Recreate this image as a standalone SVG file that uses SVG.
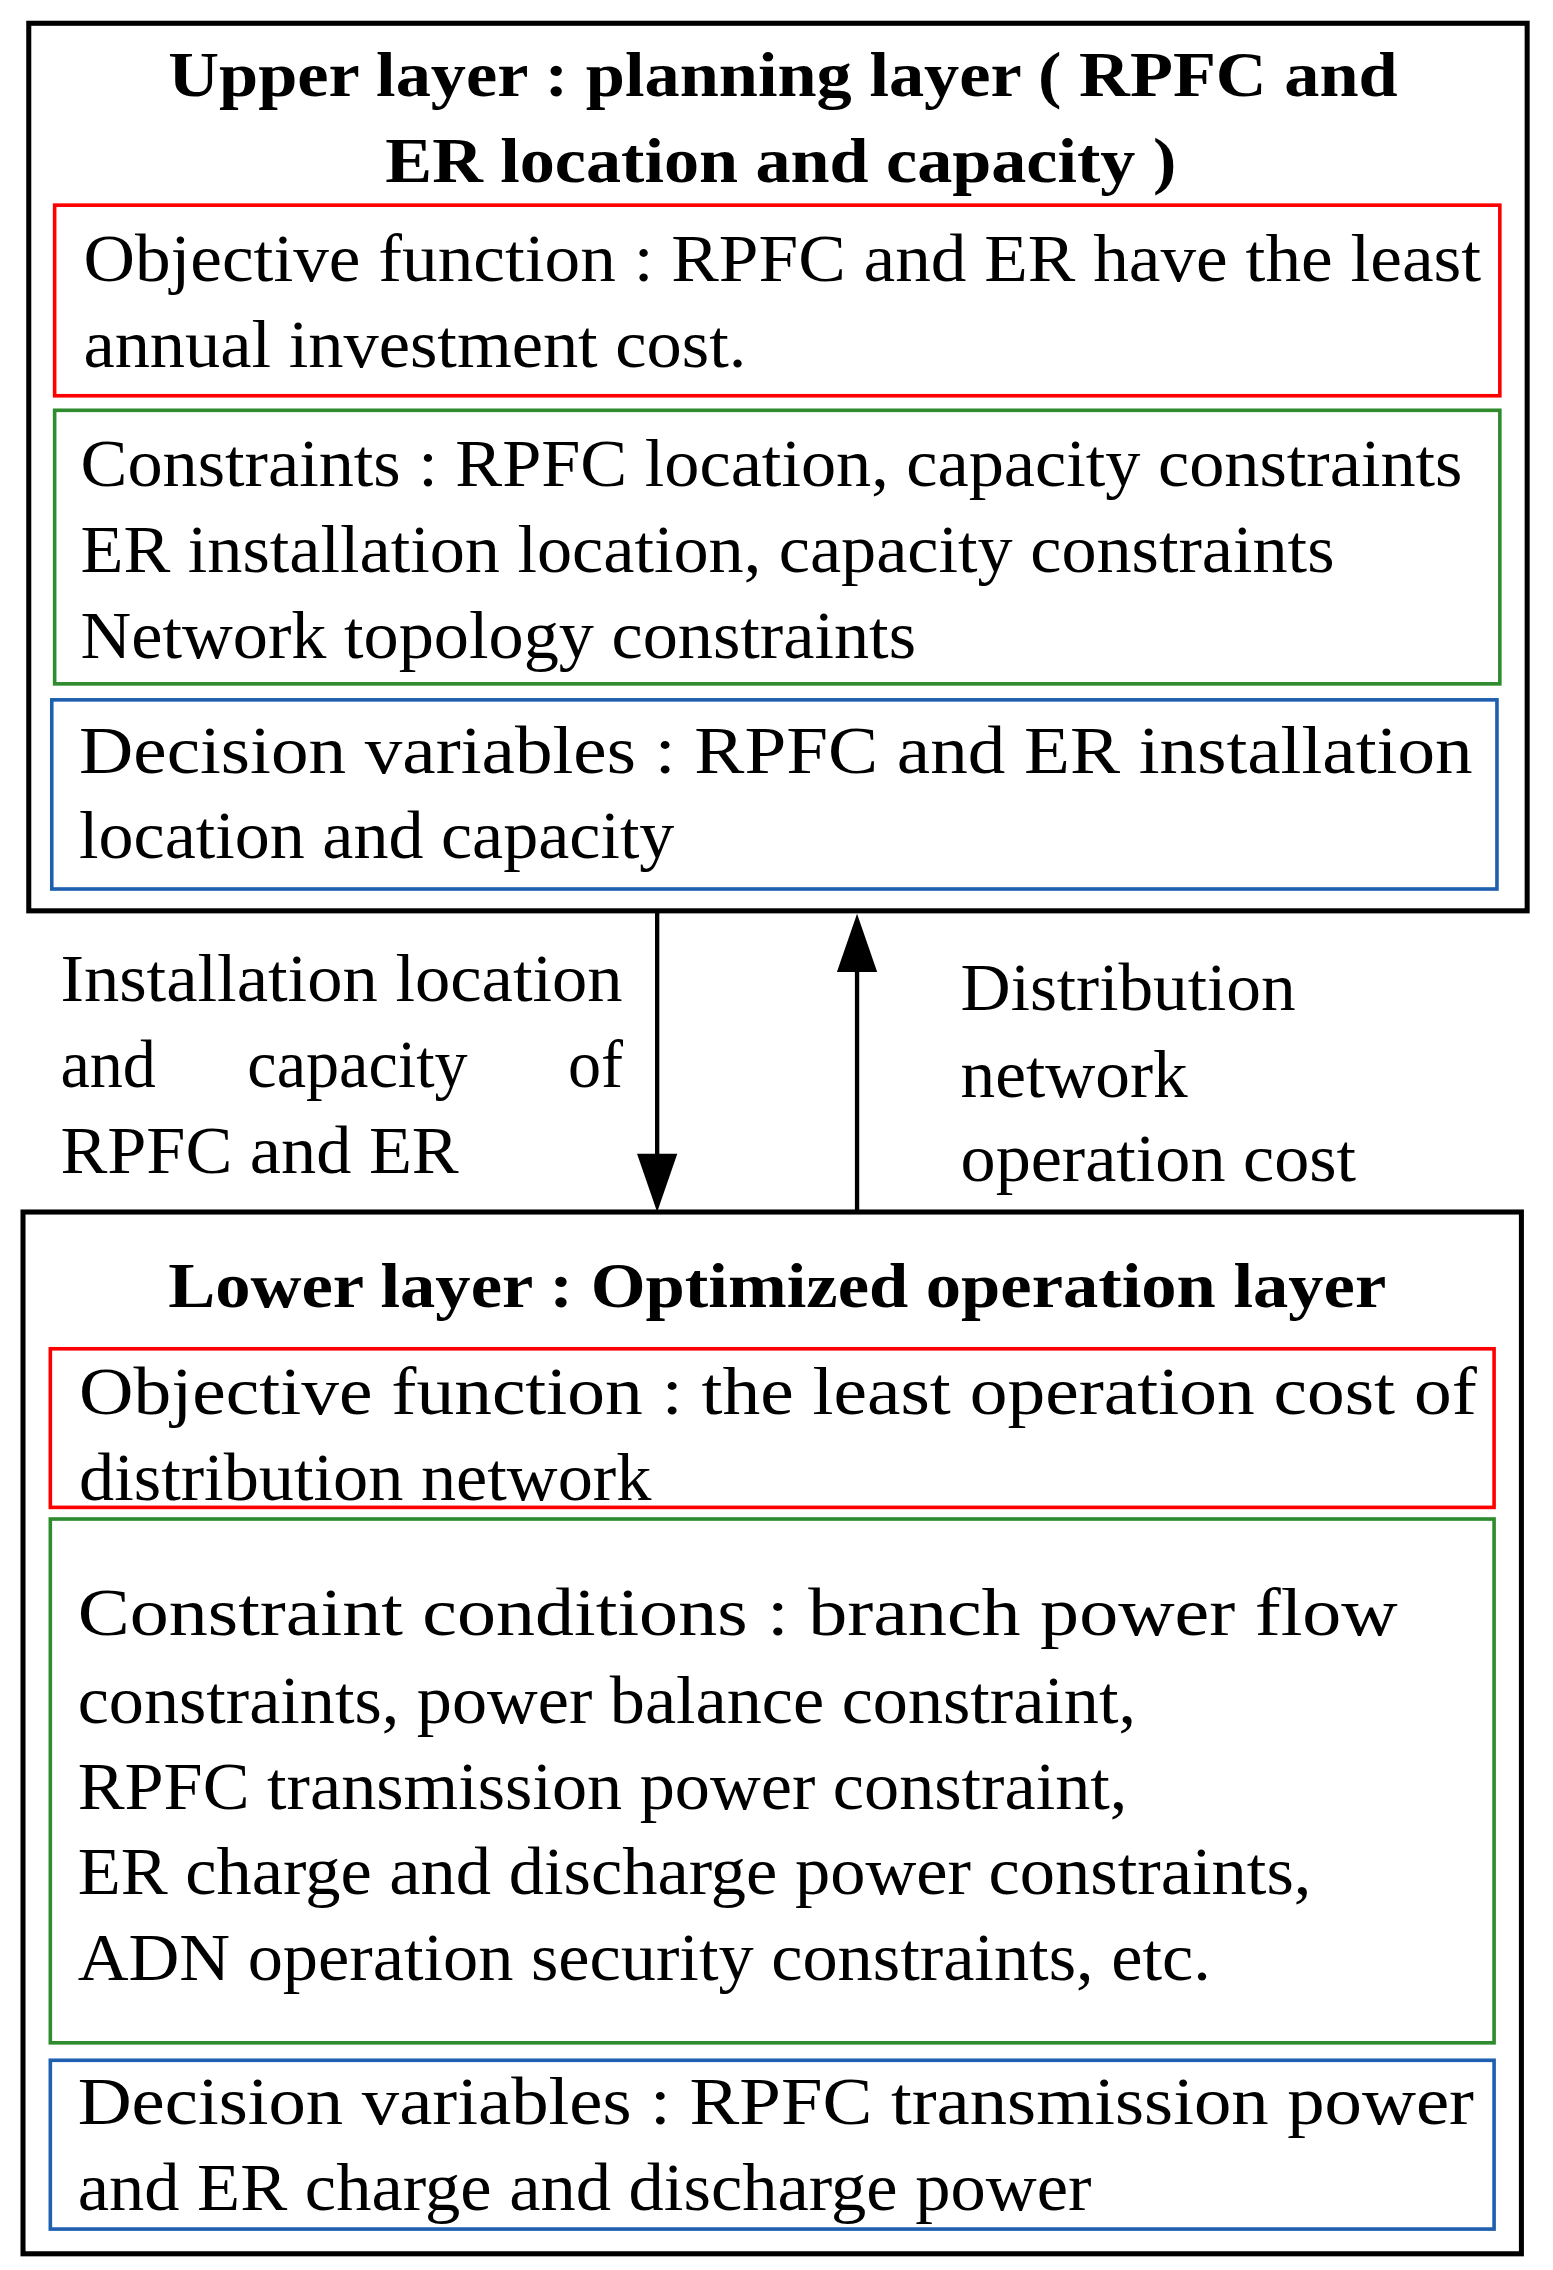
<svg xmlns="http://www.w3.org/2000/svg" width="1553" height="2270" viewBox="0 0 1553 2270">
<style>
.t{font-family:"Liberation Serif","Times New Roman",serif;font-size:46px;fill:#000}
.b{font-family:"Liberation Serif","Times New Roman",serif;font-size:44px;font-weight:bold;fill:#000}
.o{fill:none;stroke:#000;stroke-width:3.5}
.r{fill:none;stroke:#ff0000;stroke-width:2.5}
.g{fill:none;stroke:#2e8b2e;stroke-width:2.5}
.u{fill:none;stroke:#1f5fb0;stroke-width:2.5}
</style>
<rect width="1553" height="2270" fill="#fff"/>
<g transform="scale(1.438 1.455)">
<g id="upper">
<rect class="o" x="20" y="16" width="1042" height="610"/>
<text class="b" x="117" y="66" textLength="855" lengthAdjust="spacingAndGlyphs">Upper layer : planning layer ( RPFC and</text>
<text class="b" x="268" y="125" textLength="550" lengthAdjust="spacingAndGlyphs">ER location and capacity )</text>
<rect class="r" x="38" y="141" width="1005" height="131"/>
<text class="t" x="58" y="193" textLength="972" lengthAdjust="spacingAndGlyphs">Objective function : RPFC and ER have the least</text>
<text class="t" x="58" y="252" textLength="461" lengthAdjust="spacingAndGlyphs">annual investment cost.</text>
<rect class="g" x="38" y="282" width="1005" height="188"/>
<text class="t" x="56" y="334" textLength="961" lengthAdjust="spacingAndGlyphs">Constraints : RPFC location, capacity constraints</text>
<text class="t" x="56" y="393" textLength="872" lengthAdjust="spacingAndGlyphs">ER installation location, capacity constraints</text>
<text class="t" x="56" y="452" textLength="581" lengthAdjust="spacingAndGlyphs">Network topology constraints</text>
<rect class="u" x="36" y="481" width="1005" height="130"/>
<text class="t" x="55" y="531" textLength="969" lengthAdjust="spacingAndGlyphs">Decision variables : RPFC and ER installation</text>
<text class="t" x="55" y="590" textLength="414" lengthAdjust="spacingAndGlyphs">location and capacity</text>
</g>
<g id="connectors">
<line x1="457" y1="626" x2="457" y2="800" stroke="#000" stroke-width="3"/>
<path d="M443,793 L471,793 L457,833 z" fill="#000"/>
<line x1="596" y1="833" x2="596" y2="660" stroke="#000" stroke-width="3"/>
<path d="M582,668 L610,668 L596,628 z" fill="#000"/>
<text class="t" x="42" y="688" textLength="391" lengthAdjust="spacingAndGlyphs">Installation location</text>
<text class="t" y="747"><tspan x="42">and</tspan><tspan x="172">capacity</tspan><tspan x="395">of</tspan></text>
<text class="t" x="42" y="806" textLength="277" lengthAdjust="spacingAndGlyphs">RPFC and ER</text>
<text class="t" x="668" y="694" textLength="233" lengthAdjust="spacingAndGlyphs">Distribution</text>
<text class="t" x="668" y="754" textLength="158" lengthAdjust="spacingAndGlyphs">network</text>
<text class="t" x="668" y="812" textLength="275" lengthAdjust="spacingAndGlyphs">operation cost</text>
</g>
<g id="lower">
<rect class="o" x="16" y="833" width="1042" height="716"/>
<text class="b" x="117" y="898" textLength="847" lengthAdjust="spacingAndGlyphs">Lower layer : Optimized operation layer</text>
<rect class="r" x="35" y="927" width="1004" height="109"/>
<text class="t" x="55" y="972" textLength="972" lengthAdjust="spacingAndGlyphs">Objective function : the least operation cost of</text>
<text class="t" x="55" y="1031" textLength="398" lengthAdjust="spacingAndGlyphs">distribution network</text>
<rect class="g" x="35" y="1044" width="1004" height="360"/>
<text class="t" x="54" y="1124" textLength="918" lengthAdjust="spacingAndGlyphs">Constraint conditions : branch power flow</text>
<text class="t" x="54" y="1184" textLength="736" lengthAdjust="spacingAndGlyphs">constraints, power balance constraint,</text>
<text class="t" x="54" y="1243" textLength="730" lengthAdjust="spacingAndGlyphs">RPFC transmission power constraint,</text>
<text class="t" x="54" y="1302" textLength="858" lengthAdjust="spacingAndGlyphs">ER charge and discharge power constraints,</text>
<text class="t" x="54" y="1361" textLength="788" lengthAdjust="spacingAndGlyphs">ADN operation security constraints, etc.</text>
<rect class="u" x="35" y="1416" width="1004" height="116"/>
<text class="t" x="54" y="1460" textLength="971" lengthAdjust="spacingAndGlyphs">Decision variables : RPFC transmission power</text>
<text class="t" x="54" y="1519" textLength="705" lengthAdjust="spacingAndGlyphs">and ER charge and discharge power</text>
</g>
</g>
</svg>
